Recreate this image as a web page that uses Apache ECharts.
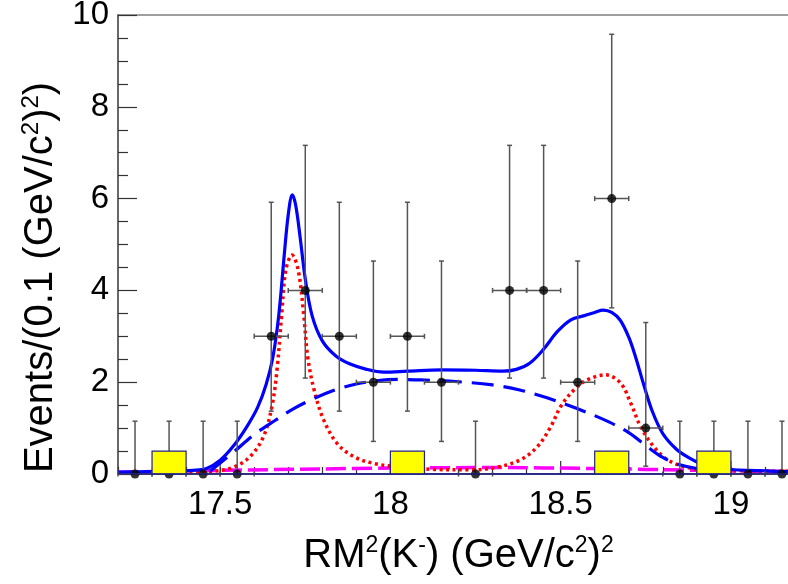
<!DOCTYPE html>
<html>
<head>
<meta charset="utf-8">
<script src="https://cdn.jsdelivr.net/npm/echarts@6/dist/echarts.min.js"></script>
<style>html,body{margin:0;padding:0;background:#fff;}#chart{width:788px;height:584px;}</style>
</head>
<body>
<div id="chart"></div>
<script>
// ---- data ----
const binCenters = [17.25,17.35,17.45,17.55,17.65,17.75,17.85,17.95,18.05,18.15,18.25,18.35,18.45,18.55,18.65,18.75,18.85,18.95,19.05,19.15];
const counts     = [0,0,0,0,3,4,3,2,3,2,0,4,4,2,6,1,0,0,0,0];
const errLow     = [0,0,0,0,1.37,2.09,1.37,0.71,1.37,0.71,0,2.09,2.09,0.71,3.62,0.17,0,0,0,0];
const errHigh    = [1.15,1.15,1.15,1.15,5.92,7.16,5.92,4.64,5.92,4.64,1.15,7.16,7.16,4.64,9.58,3.30,1.15,1.15,1.15,1.15];
const binHalfWidth = 0.05;

const boxStarts  = [17.3,18.0,18.6,18.9];
const boxHeights = [0.5,0.5,0.5,0.5];
const boxWidth = 0.1;

const totalFit = [[17.20,0.04],[17.35,0.06],[17.42,0.08],[17.46,0.12],[17.50,0.30],[17.54,0.62],[17.58,1.05],[17.61,1.45],[17.635,1.95],[17.655,2.55],[17.672,3.45],[17.688,4.75],[17.70,5.65],[17.712,6.08],[17.722,5.85],[17.735,5.15],[17.75,4.25],[17.77,3.45],[17.80,2.90],[17.84,2.57],[17.88,2.40],[17.93,2.28],[17.98,2.22],[18.05,2.24],[18.15,2.27],[18.25,2.26],[18.33,2.24],[18.37,2.28],[18.41,2.42],[18.45,2.72],[18.49,3.10],[18.53,3.36],[18.57,3.45],[18.60,3.52],[18.625,3.57],[18.65,3.52],[18.675,3.35],[18.70,2.98],[18.72,2.55],[18.745,1.92],[18.77,1.35],[18.80,0.88],[18.84,0.54],[18.88,0.34],[18.92,0.20],[18.97,0.12],[19.05,0.08],[19.20,0.05]];

const bkgCurve = [[17.47,0.06],[17.50,0.24],[17.54,0.48],[17.60,0.86],[17.66,1.16],[17.72,1.44],[17.78,1.66],[17.84,1.84],[17.90,1.96],[17.96,2.03],[18.02,2.06],[18.09,2.05],[18.20,2.01],[18.30,1.94],[18.38,1.83],[18.46,1.66],[18.55,1.42],[18.64,1.14],[18.70,0.90],[18.75,0.62],[18.80,0.36],[18.85,0.20],[18.90,0.12],[18.95,0.10]];

const sigCurve = [[17.20,0.02],[17.40,0.03],[17.47,0.05],[17.54,0.15],[17.588,0.38],[17.627,0.81],[17.652,1.47],[17.667,2.27],[17.681,3.50],[17.693,4.45],[17.711,4.77],[17.729,4.45],[17.745,3.50],[17.757,2.56],[17.776,1.83],[17.804,1.18],[17.843,0.67],[17.892,0.38],[17.951,0.23],[18.03,0.15],[18.13,0.10],[18.235,0.09],[18.314,0.15],[18.382,0.31],[18.431,0.59],[18.471,1.03],[18.50,1.47],[18.539,1.83],[18.578,2.05],[18.632,2.16],[18.676,1.98],[18.706,1.54],[18.735,1.03],[18.774,0.59],[18.814,0.31],[18.863,0.16],[18.92,0.09],[19.20,0.06]];

const flatCurve = [[17.20,0.04],[17.50,0.08],[17.80,0.11],[18.00,0.13],[18.30,0.14],[18.60,0.12],[18.90,0.08],[19.20,0.05]];

const xMin = 17.2, xMax = 19.2, yMin = 0, yMax = 10;
const xTickLabels = ['17.5','18','18.5','19'];
const yTickLabels = ['0','2','4','6','8','10'];

// ---- chart ----
const chart = echarts.init(document.getElementById('chart'), null, {renderer: 'canvas'});
const FONT = 'Liberation Sans, Arial, Helvetica, sans-serif';
const supStyle = {fontSize: 23, fontFamily: FONT, color: '#000', verticalAlign: 'top', lineHeight: 18};
const supStyleY = {fontSize: 24, fontFamily: FONT, color: '#000', verticalAlign: 'top', lineHeight: 18};
const baseStyleX = {fontSize: 40, fontFamily: FONT, color: '#000', lineHeight: 44};
const baseStyleY = {fontSize: 40, fontFamily: FONT, color: '#000', lineHeight: 44};
const spacerStyle = {fontSize: 40, fontFamily: FONT, color: 'rgba(0,0,0,0)', width: 66, lineHeight: 44};

const option = {
  animation: false,
  backgroundColor: '#fff',
  grid: {left: 118, top: 15, width: 681, height: 459, outerBoundsMode: 'none', containLabel: false,
         show: true, borderColor: '#808080', borderWidth: 1.5, backgroundColor: 'transparent'},
  xAxis: {
    type: 'value', min: xMin, max: xMax, interval: 0.1,
    axisLine: {show: true, onZero: false, lineStyle: {color: '#22228a', width: 1.5}},
    axisTick: {show: true, inside: true, length: 7, lineStyle: {color: '#333', width: 1.2}},
    splitLine: {show: false},
    axisLabel: {
      fontSize: 33, fontFamily: FONT, color: '#000', margin: 14, showMinLabel: true, showMaxLabel: true,
      formatter: v => { const s = String(Math.round(v*10)/10); return xTickLabels.indexOf(s) >= 0 ? s : ''; }
    },
    name: '{b|RM}{s|2}{b|(K}{s|-}{b|) (GeV/c}{s|2}{b|)}{s|2}',
    nameLocation: 'middle', nameGap: 60,
    nameTextStyle: {rich: {b: baseStyleX, s: supStyle}}
  },
  yAxis: {
    type: 'value', min: yMin, max: yMax, interval: 2,
    axisLine: {show: true, lineStyle: {color: '#555', width: 1.5}},
    axisTick: {show: true, inside: true, length: 19, lineStyle: {color: '#333', width: 1.2}},
    minorTick: {show: true, splitNumber: 4, length: 10, lineStyle: {color: '#333', width: 1.2}},
    splitLine: {show: false},
    axisLabel: {
      fontSize: 33, fontFamily: FONT, color: '#000', margin: 9,
      formatter: v => { const s = String(Math.round(v)); return yTickLabels.indexOf(s) >= 0 ? s : ''; }
    },
    name: '{b|Events/(0.1 (GeV/c}{s|2}{b|)}{s|2}{b|)}{p| }',
    nameLocation: 'middle', nameGap: 40, nameRotate: 90,
    nameTextStyle: {rich: {b: baseStyleY, s: supStyleY, p: spacerStyle}}
  },
  series: [
    {
      name: 'majorTicks', type: 'custom', z: 2, clip: false,
      data: xTickLabels.map(Number),
      renderItem: function (params, api) {
        const p = api.coord([api.value(0), 0]);
        return {type: 'line', shape: {x1: p[0], y1: p[1], x2: p[0], y2: p[1] - 13}, style: {stroke: '#333', lineWidth: 1.2}};
      }
    },
    {
      name: 'flat', type: 'line', data: flatCurve, showSymbol: false, smooth: 0.3, z: 3,
      lineStyle: {color: '#ff00ff', width: 3.5, type: [20, 6]}
    },
    {
      name: 'signal', type: 'line', data: sigCurve, showSymbol: false, smooth: 0.35, z: 4,
      lineStyle: {color: '#ff0000', width: 3.5, type: [3, 3.5]}
    },
    {
      name: 'background', type: 'line', data: bkgCurve, showSymbol: false, smooth: 0.35, z: 5,
      lineStyle: {color: '#0000ff', width: 3.2, type: [22, 10]}
    },
    {
      name: 'total', type: 'line', data: totalFit, showSymbol: false, smooth: 0.35, z: 6,
      lineStyle: {color: '#0000ff', width: 3.2}
    },
    {
      name: 'errors', type: 'custom', z: 7, clip: false,
      data: binCenters.map((x, i) => [x, counts[i], errLow[i], errHigh[i]]),
      renderItem: function (params, api) {
        const x = api.value(0), y = api.value(1), lo = api.value(2), hi = api.value(3);
        const pLo = api.coord([x, lo]), pHi = api.coord([x, hi]);
        const pL = api.coord([x - binHalfWidth, y]), pR = api.coord([x + binHalfWidth, y]);
        const st = {stroke: '#555', lineWidth: 1.5};
        const capW = 2.5, capH = 2.5;
        return {
          type: 'group',
          children: [
            {type: 'line', shape: {x1: pLo[0], y1: pLo[1], x2: pHi[0], y2: pHi[1]}, style: st},
            {type: 'line', shape: {x1: pHi[0]-capW, y1: pHi[1], x2: pHi[0]+capW, y2: pHi[1]}, style: st},
            {type: 'line', shape: {x1: pLo[0]-capW, y1: pLo[1], x2: pLo[0]+capW, y2: pLo[1]}, style: st},
            {type: 'line', shape: {x1: pL[0], y1: pL[1], x2: pR[0], y2: pR[1]}, style: st},
            {type: 'line', shape: {x1: pL[0], y1: pL[1]-capH, x2: pL[0], y2: pL[1]+capH}, style: st},
            {type: 'line', shape: {x1: pR[0], y1: pR[1]-capH, x2: pR[0], y2: pR[1]+capH}, style: st}
          ]
        };
      }
    },
    {
      name: 'data', type: 'scatter', z: 8, clip: false,
      data: binCenters.map((x, i) => [x, counts[i]]),
      symbol: 'circle', symbolSize: 9, itemStyle: {color: '#000'}
    },
    {
      name: 'boxes', type: 'custom', z: 9,
      data: boxStarts.map((s, i) => [s, s + boxWidth, boxHeights[i]]),
      renderItem: function (params, api) {
        const p0 = api.coord([api.value(0), api.value(2)]);
        const p1 = api.coord([api.value(1), 0]);
        return {
          type: 'rect',
          shape: {x: p0[0], y: p0[1], width: p1[0] - p0[0], height: p1[1] - p0[1]},
          style: {fill: '#ffff00', stroke: '#22228a', lineWidth: 1.2}
        };
      }
    },
    {
      name: 'baseline', type: 'line', z: 10, showSymbol: false,
      data: [[xMin, 0], [xMax, 0]],
      lineStyle: {color: '#22228a', width: 1.5}
    }
  ]
};
chart.setOption(option);
</script>
</body>
</html>
